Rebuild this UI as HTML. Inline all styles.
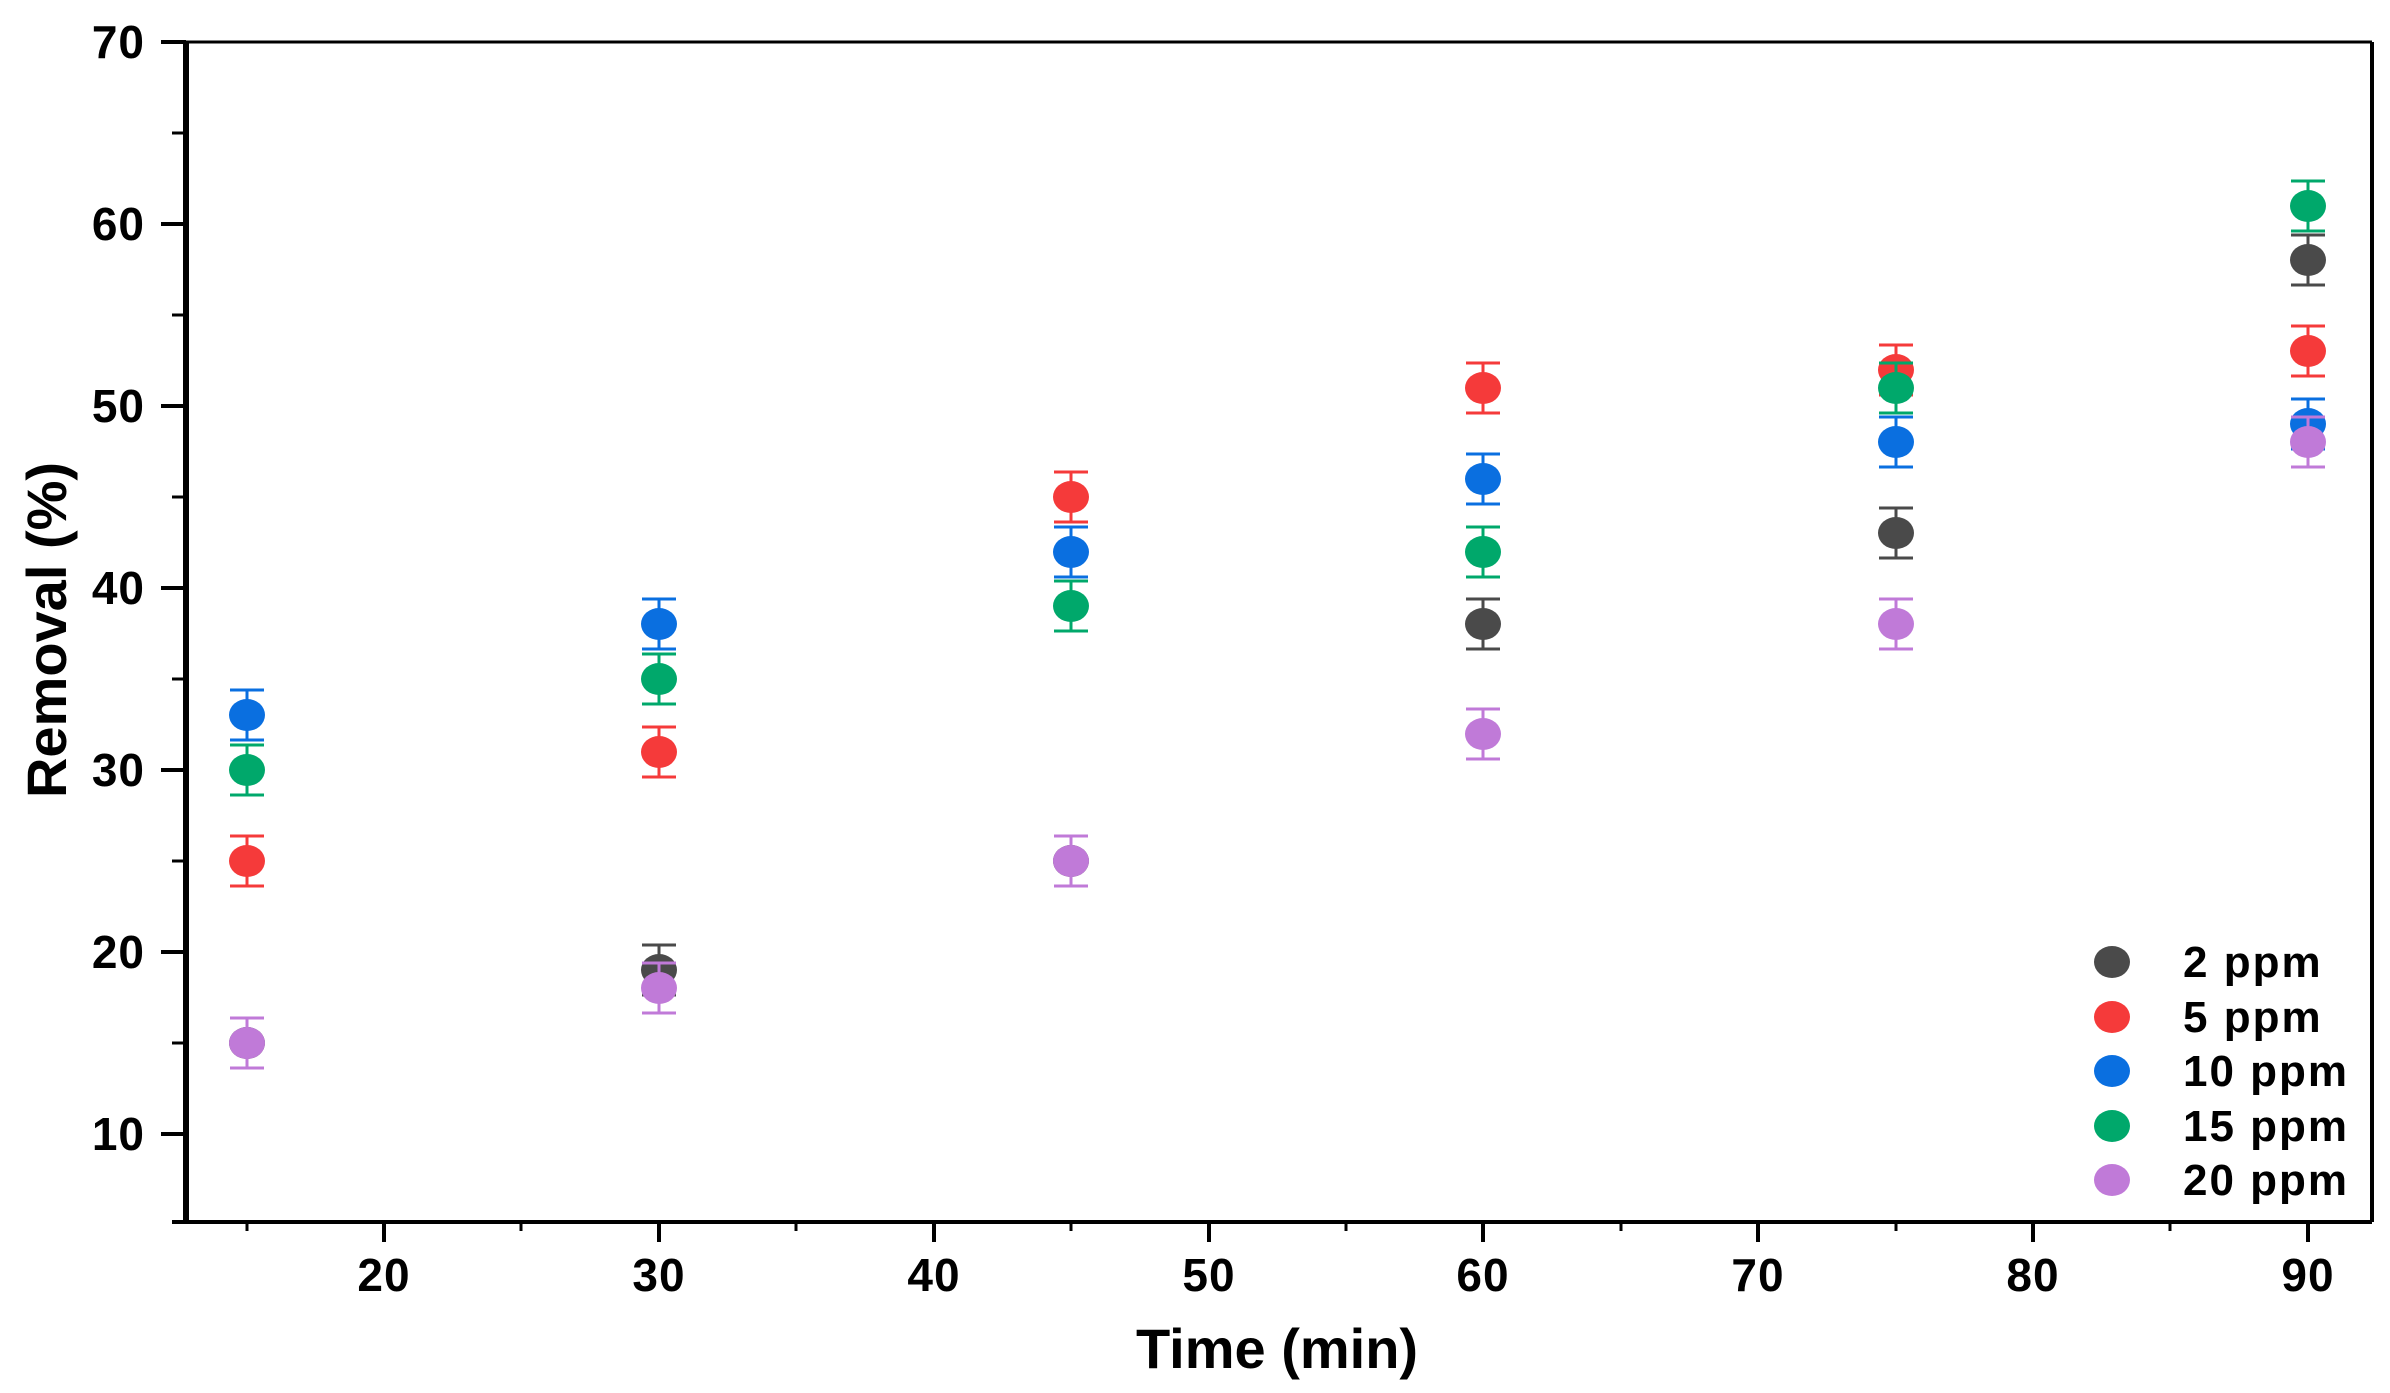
<!DOCTYPE html>
<html><head><meta charset="utf-8"><style>
html,body{margin:0;padding:0;background:#fff;}
svg{display:block;}
text{font-family:"Liberation Sans",Arial,sans-serif;font-weight:bold;fill:#000;}
</style></head><body>
<svg width="2390" height="1393" viewBox="0 0 2390 1393" xmlns="http://www.w3.org/2000/svg">
<defs>
<g id="m" stroke="currentColor" fill="currentColor" stroke-width="3">
<line x1="0" y1="-25" x2="0" y2="25"/>
<line x1="-17" y1="-25" x2="17" y2="-25"/>
<line x1="-17" y1="25" x2="17" y2="25"/>
<ellipse cx="0" cy="0" rx="18" ry="16" stroke="none"/>
</g>
</defs>
<g stroke="#000" fill="none">
<line x1="161" y1="42" x2="2372" y2="42" stroke-width="3"/>
<line x1="2372" y1="42" x2="2372" y2="1222" stroke-width="4"/>
<line x1="186" y1="42" x2="186" y2="1222" stroke-width="6"/>
<line x1="172" y1="1222" x2="2372" y2="1222" stroke-width="4"/>
<g stroke-width="4">
<line x1="161" y1="42" x2="186" y2="42"/>
<line x1="161" y1="224" x2="186" y2="224"/>
<line x1="161" y1="406" x2="186" y2="406"/>
<line x1="161" y1="588" x2="186" y2="588"/>
<line x1="161" y1="770" x2="186" y2="770"/>
<line x1="161" y1="952" x2="186" y2="952"/>
<line x1="161" y1="1134" x2="186" y2="1134"/>
</g>
<g stroke-width="3">
<line x1="172" y1="133" x2="186" y2="133"/>
<line x1="172" y1="315" x2="186" y2="315"/>
<line x1="172" y1="497" x2="186" y2="497"/>
<line x1="172" y1="679" x2="186" y2="679"/>
<line x1="172" y1="861" x2="186" y2="861"/>
<line x1="172" y1="1043" x2="186" y2="1043"/>
</g>
<g stroke-width="4">
<line x1="384" y1="1222" x2="384" y2="1242"/>
<line x1="659" y1="1222" x2="659" y2="1242"/>
<line x1="934" y1="1222" x2="934" y2="1242"/>
<line x1="1209" y1="1222" x2="1209" y2="1242"/>
<line x1="1483" y1="1222" x2="1483" y2="1242"/>
<line x1="1758" y1="1222" x2="1758" y2="1242"/>
<line x1="2033" y1="1222" x2="2033" y2="1242"/>
<line x1="2308" y1="1222" x2="2308" y2="1242"/>
</g>
<g stroke-width="3">
<line x1="247" y1="1222" x2="247" y2="1231"/>
<line x1="521" y1="1222" x2="521" y2="1231"/>
<line x1="796" y1="1222" x2="796" y2="1231"/>
<line x1="1071" y1="1222" x2="1071" y2="1231"/>
<line x1="1346" y1="1222" x2="1346" y2="1231"/>
<line x1="1621" y1="1222" x2="1621" y2="1231"/>
<line x1="1896" y1="1222" x2="1896" y2="1231"/>
<line x1="2170" y1="1222" x2="2170" y2="1231"/>
</g>
</g>
<g font-size="46" text-anchor="end" letter-spacing="1">
<text x="145" y="58">70</text>
<text x="145" y="240">60</text>
<text x="145" y="422">50</text>
<text x="145" y="604">40</text>
<text x="145" y="786">30</text>
<text x="145" y="968">20</text>
<text x="145" y="1150">10</text>
</g>
<g font-size="46" text-anchor="middle" letter-spacing="1">
<text x="384" y="1291">20</text>
<text x="659" y="1291">30</text>
<text x="934" y="1291">40</text>
<text x="1209" y="1291">50</text>
<text x="1483" y="1291">60</text>
<text x="1758" y="1291">70</text>
<text x="2033" y="1291">80</text>
<text x="2308" y="1291">90</text>
</g>
<text x="1277" y="1368" font-size="56" text-anchor="middle">Time (min)</text>
<text transform="translate(66,630) rotate(-90)" font-size="56" text-anchor="middle">Removal (%)</text>
<g color="#4a4a4a">
<use href="#m" x="247" y="1043"/><use href="#m" x="659" y="970"/><use href="#m" x="1071" y="861"/>
<use href="#m" x="1483" y="624"/><use href="#m" x="1896" y="533"/><use href="#m" x="2308" y="260"/>
</g>
<g color="#f53a3a">
<use href="#m" x="247" y="861"/><use href="#m" x="659" y="752"/><use href="#m" x="1071" y="497"/>
<use href="#m" x="1483" y="388"/><use href="#m" x="1896" y="370"/><use href="#m" x="2308" y="351"/>
</g>
<g color="#0a6fe0">
<use href="#m" x="247" y="715"/><use href="#m" x="659" y="624"/><use href="#m" x="1071" y="552"/>
<use href="#m" x="1483" y="479"/><use href="#m" x="1896" y="442"/><use href="#m" x="2308" y="424"/>
</g>
<g color="#00a86b">
<use href="#m" x="247" y="770"/><use href="#m" x="659" y="679"/><use href="#m" x="1071" y="606"/>
<use href="#m" x="1483" y="552"/><use href="#m" x="1896" y="388"/><use href="#m" x="2308" y="206"/>
</g>
<g color="#c07ad8">
<use href="#m" x="247" y="1043"/><use href="#m" x="659" y="988"/><use href="#m" x="1071" y="861"/>
<use href="#m" x="1483" y="734"/><use href="#m" x="1896" y="624"/><use href="#m" x="2308" y="442"/>
</g>
<ellipse cx="2112" cy="962" rx="18" ry="16" fill="#4a4a4a"/>
<ellipse cx="2112" cy="1017" rx="18" ry="16" fill="#f53a3a"/>
<ellipse cx="2112" cy="1071" rx="18" ry="16" fill="#0a6fe0"/>
<ellipse cx="2112" cy="1126" rx="18" ry="16" fill="#00a86b"/>
<ellipse cx="2112" cy="1180" rx="18" ry="16" fill="#c07ad8"/>
<g font-size="44" letter-spacing="2">
<text x="2183" y="977">2 ppm</text>
<text x="2183" y="1032">5 ppm</text>
<text x="2183" y="1086">10 ppm</text>
<text x="2183" y="1141">15 ppm</text>
<text x="2183" y="1195">20 ppm</text>
</g>
</svg>
</body></html>
